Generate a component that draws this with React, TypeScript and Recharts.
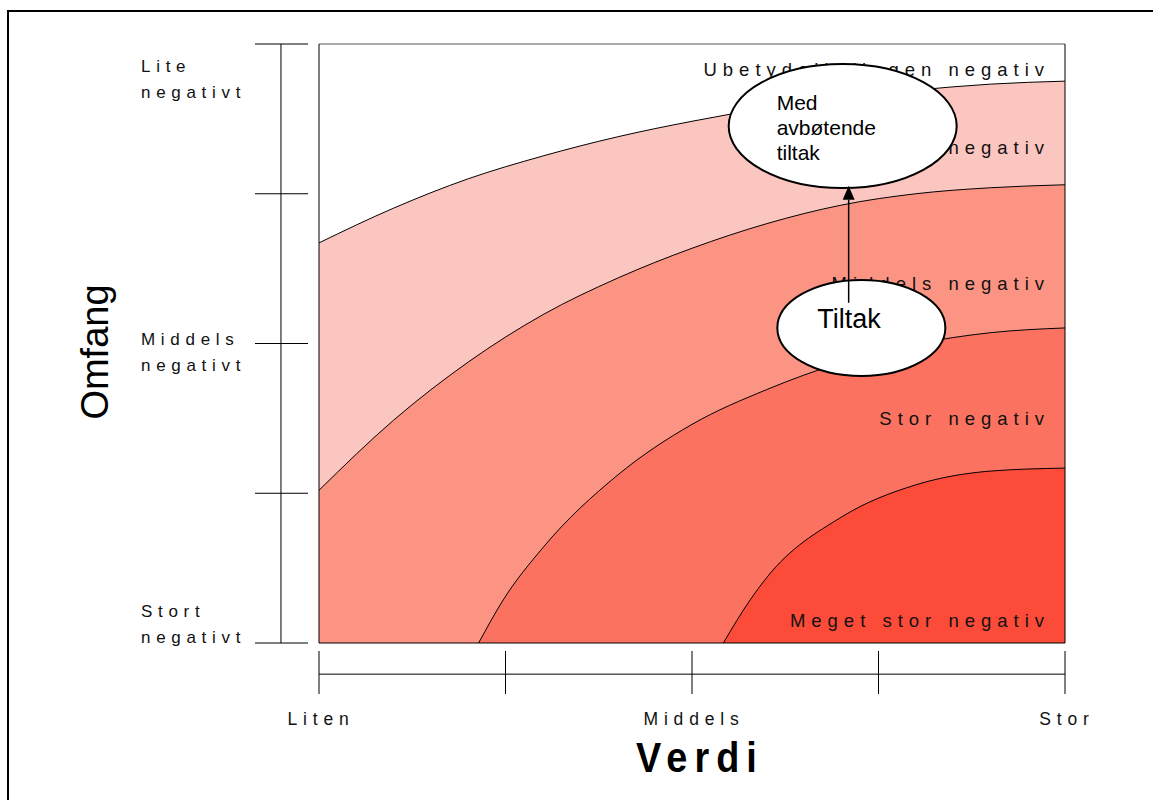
import React from 'react';
import { ComposedChart, Area, Scatter, XAxis, YAxis, ReferenceLine, Label } from 'recharts';

const FONT = '"Liberation Sans", Arial, sans-serif';

// x positions along "Verdi" (0 = Liten, 100 = Stor)
const X = [0, 10, 20, 21.4, 24.7, 30, 40, 50, 54.2, 57.8, 60, 70, 80, 90, 100];
// upper boundary of each band along "Omfang" (0 = Stort negativt, 100 = Lite negativt)
const LITEN = [66.8, 72.6, 77.5, null, null, 81.3, 84.5, 87.1, null, null, 89.3, 91.0, 92.3, 93.3, 93.8];
const MIDDELS = [25.5, 37.2, 46.9, null, null, 54.8, 60.9, 65.9, null, null, 70.0, 73.1, 75.0, 76.0, 76.5];
const STOR = [null, null, null, 0, 7.2, 15.9, 28.0, 36.5, null, null, 42.3, 46.8, 49.9, 51.8, 52.6];
const MEGET = [null, null, null, null, null, null, null, null, 0, 7.2, 10.9, 21.0, 26.4, 28.7, 29.2];

const BAND_COLORS = ['#fcc6c0', '#fc9484', '#fb7360', '#fc4b38'];

const BAND_TEXTS = ['Ubetydelig/ingen negativ', 'Liten negativ', 'Middels negativ', 'Stor negativ', 'Meget stor negativ'];
const BAND_TEXT_Y = [95.7, 82.8, 60.1, 37.4, 3.7];

const X_TICKS = [0, 25, 50, 75, 100];
const X_TICK_LABELS = ['Liten', '', 'Middels', '', 'Stor'];
const Y_TICKS = [0, 25, 50, 75, 100];
const Y_TICK_LABELS = [['Stort', 'negativt'], [], ['Middels', 'negativt'], [], ['Lite', 'negativt']];

const rows = X.map((x, i) => ({ x, liten: LITEN[i], middels: MIDDELS[i], stor: STOR[i], meget: MEGET[i] }));

const bandLabels = BAND_TEXTS.map((text, i) => ({ x: 98, y: BAND_TEXT_Y[i], text }));

const bubbles = [
  { x: 70.2, y: 86.3, kind: 'med', lines: ['Med', 'avbøtende', 'tiltak'] },
  { x: 72.7, y: 52.6, kind: 'tiltak', lines: ['Tiltak'] },
];

const arrow = [
  { x: 71.0, y: 56.8, end: 'tail' },
  { x: 71.0, y: 74.0, end: 'head' },
];

const BandLabel = (p: any) => (
  <text
    x={p.cx}
    y={p.cy}
    textAnchor="end"
    dominantBaseline="central"
    fontSize={18.5}
    letterSpacing={6}
    fill="#111"
    fontFamily={FONT}
  >
    {p.payload.text}
  </text>
);

const Bubble = (p: any) => {
  const { cx, cy, payload } = p;
  const med = payload.kind === 'med';
  const rx = med ? 114 : 84;
  const ry = med ? 62 : 48;
  return (
    <g>
      <ellipse cx={cx} cy={cy} rx={rx} ry={ry} fill="#fff" stroke="#000" strokeWidth={2} />
      {med ? (
        payload.lines.map((l: string, i: number) => (
          <text key={i} x={cx - 66} y={cy - 16 + i * 25} fontSize={21} fill="#000" fontFamily={FONT}>
            {l}
          </text>
        ))
      ) : (
        <text x={cx - 44} y={cy} fontSize={27} fill="#000" fontFamily={FONT}>
          {payload.lines[0]}
        </text>
      )}
    </g>
  );
};

const ArrowEnd = (p: any) => {
  const { cx, cy, payload } = p;
  if (payload.end !== 'head') return <g />;
  return <polygon points={`${cx - 6},${cy} ${cx + 6},${cy} ${cx},${cy - 14}`} fill="#000" />;
};

const XTick = (p: any) => {
  const i = X_TICKS.indexOf(p.payload.value);
  return (
    <g>
      <line x1={p.x} x2={p.x} y1={651} y2={694} stroke="#000" strokeWidth={1} />
      <text x={p.x + 2} y={725} textAnchor="middle" fontSize={17.5} letterSpacing={5.8} fill="#111" fontFamily={FONT}>
        {X_TICK_LABELS[i]}
      </text>
    </g>
  );
};

const YTick = (p: any) => {
  const i = Y_TICKS.indexOf(p.payload.value);
  const lines = Y_TICK_LABELS[i] || [];
  const dy = i === 4 ? 28 : i === 2 ? 1.5 : -26;
  return (
    <g>
      <line x1={255} x2={308} y1={p.y} y2={p.y} stroke="#000" strokeWidth={1} />
      {lines.map((l, k) => (
        <text key={k} x={141} y={p.y + dy + k * 26} fontSize={17} letterSpacing={5.7} fill="#111" fontFamily={FONT}>
          {l}
        </text>
      ))}
    </g>
  );
};

export default function App() {
  return (
    <div style={{ position: 'absolute', left: 0, top: 0, width: 1153, height: 800, overflow: 'hidden', background: '#fff' }}>
      <div
        style={{
          position: 'absolute',
          left: 7,
          top: 10,
          width: 1200,
          height: 850,
          border: '2px solid #000',
          boxSizing: 'border-box',
        }}
      />
      <div style={{ position: 'absolute', left: 0, top: 0 }}>
        <ComposedChart width={1153} height={800} data={rows} margin={{ top: 44, right: 88, bottom: 0, left: 0 }}>
          <XAxis
            dataKey="x"
            type="number"
            domain={[0, 100]}
            ticks={X_TICKS}
            interval={0}
            height={157}
            axisLine={{ stroke: '#000' }}
            tickLine={false}
            tick={<XTick />}
          >
            <Label
              content={() => (
                <text x={700} y={772} textAnchor="middle" fontSize={43} fontWeight="bold" letterSpacing={8} fill="#000" fontFamily={FONT} transform="translate(700,0) scale(0.88,1) translate(-700,0)">
                  Verdi
                </text>
              )}
            />
          </XAxis>
          <YAxis
            type="number"
            domain={[0, 100]}
            ticks={Y_TICKS}
            interval={0}
            width={319}
            axisLine={{ stroke: '#000' }}
            tickLine={false}
            tick={<YTick />}
          >
            <Label
              content={() => (
                <text x={108} y={352} textAnchor="middle" fontSize={38} fill="#000" fontFamily={FONT} transform="rotate(-90 108 352)">
                  Omfang
                </text>
              )}
            />
          </YAxis>

          <Area dataKey="liten" name="Liten negativ" type="monotone" connectNulls fill={BAND_COLORS[0]} fillOpacity={1} stroke="#000" strokeWidth={1} isAnimationActive={false} />
          <Area dataKey="middels" name="Middels negativ" type="monotone" connectNulls fill={BAND_COLORS[1]} fillOpacity={1} stroke="#000" strokeWidth={1} isAnimationActive={false} />
          <Area dataKey="stor" name="Stor negativ" type="monotone" connectNulls fill={BAND_COLORS[2]} fillOpacity={1} stroke="#000" strokeWidth={1} isAnimationActive={false} />
          <Area dataKey="meget" name="Meget stor negativ" type="monotone" connectNulls fill={BAND_COLORS[3]} fillOpacity={1} stroke="#000" strokeWidth={1} isAnimationActive={false} />

          <ReferenceLine y={100} stroke="#555" strokeWidth={1} />
          <ReferenceLine x={100} stroke="#000" strokeWidth={1} />
          <ReferenceLine segment={[{ x: -5.1, y: 0 }, { x: -5.1, y: 100 }]} stroke="#000" strokeWidth={1} ifOverflow="visible" />
          <ReferenceLine segment={[{ x: 0, y: -5.2 }, { x: 100, y: -5.2 }]} stroke="#000" strokeWidth={1} ifOverflow="visible" />

          <Scatter data={bandLabels} dataKey="y" shape={<BandLabel />} isAnimationActive={false} />
          <Scatter data={bubbles} dataKey="y" shape={<Bubble />} isAnimationActive={false} />
          <Scatter data={arrow} dataKey="y" shape={<ArrowEnd />} line={{ stroke: '#000', strokeWidth: 1.5 }} isAnimationActive={false} />
        </ComposedChart>
      </div>
    </div>
  );
}
